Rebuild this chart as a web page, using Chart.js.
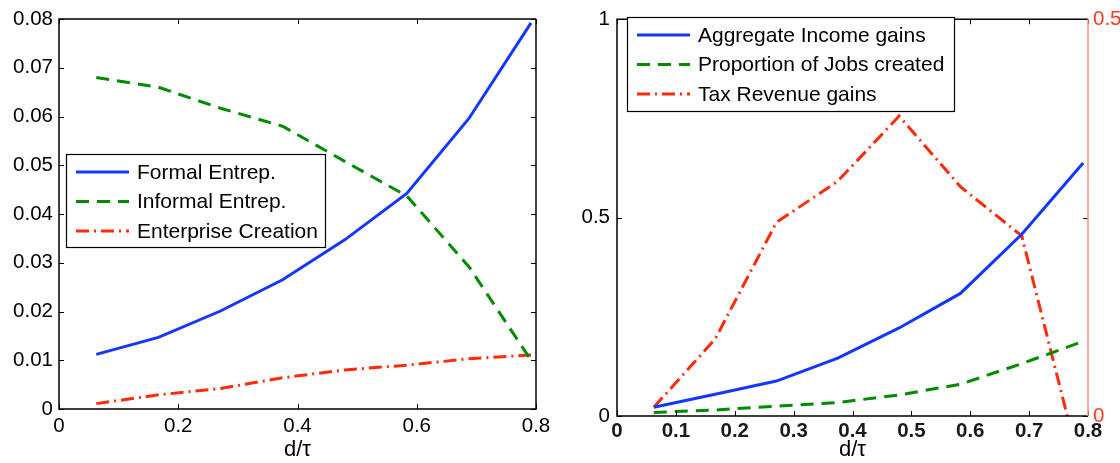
<!DOCTYPE html>
<html>
<head>
<meta charset="utf-8">
<script src="https://cdn.jsdelivr.net/npm/chart.js@4.4.1/dist/chart.umd.min.js"></script>
<style>
  body { margin: 0; background: #fff; }
  #wrap { position: relative; width: 1120px; height: 463px; }
  canvas { position: absolute; top: 0; }
</style>
</head>
<body>
<div id="wrap">
  <canvas id="left" width="560" height="463" style="left:0"></canvas>
  <canvas id="right" width="560" height="463" style="left:560px"></canvas>
</div>
<script>
// x positions (d/tau) shared by both panels
const dTau = [0.0625, 0.1667, 0.2708, 0.375, 0.4792, 0.5833, 0.6875, 0.7917];

// left panel
const formalEntrep = [0.0112, 0.0147, 0.0201, 0.0265, 0.0347, 0.0442, 0.0596, 0.0792];
const informalEntrep = [0.0680, 0.0660, 0.0617, 0.0580, 0.0508, 0.0437, 0.0292, 0.0100];
const enterpriseCreation = [0.0011, 0.0029, 0.0042, 0.0064, 0.0080, 0.0090, 0.0103, 0.0111];

// right panel
const incomeGains = [0.022, 0.055, 0.088, 0.146, 0.222, 0.309, 0.458, 0.638];
const jobsCreated = [0.009, 0.015, 0.025, 0.034, 0.053, 0.080, 0.132, 0.188];
const taxRevenueGains = [0.011, 0.097, 0.244, 0.296, 0.378, 0.289, 0.227, -0.079]; // right axis

const leftXTicks = [0, 0.2, 0.4, 0.6, 0.8];
const leftYTicks = [0, 0.01, 0.02, 0.03, 0.04, 0.05, 0.06, 0.07, 0.08];
const rightXTicks = [0, 0.1, 0.2, 0.3, 0.4, 0.5, 0.6, 0.7, 0.8];
const rightYTicks = [0, 0.5, 1];
const taxAxisTicks = [0, 0.5];

const BLUE = '#1437ff';
const GREEN = '#008a00';
const RED = '#ff2a0a';
const FONT = '"Liberation Sans", Arial, Helvetica, sans-serif';

Chart.defaults.font.family = FONT;
Chart.defaults.color = '#000';

function pts(ys) {
  return dTau.map((x, i) => ({ x: x, y: ys[i] }));
}
function useTicks(values) {
  return s => { s.ticks = values.map(v => ({ value: v })); };
}
function fixWidth(w) { return s => { s.width = w; }; }
function fixHeight(h) { return s => { s.height = h; }; }

const solid = (label, ys, color, axis) => ({
  label, data: pts(ys), borderColor: color, borderWidth: 3, pointRadius: 0, yAxisID: axis || 'y'
});
const dashed = (label, ys, color, axis) => Object.assign(solid(label, ys, color, axis), { borderDash: [13, 8] });
const dashDot = (label, ys, color, axis) => Object.assign(solid(label, ys, color, axis), { borderDash: [13, 5, 2, 5] });

// matlab-like box with inward ticks on all sides
const frame = {
  id: 'frame',
  afterDatasetsDraw(chart, args, o) {
    const { ctx, chartArea: a, scales } = chart;
    const len = 5;
    ctx.save();
    ctx.lineWidth = 1;
    ctx.strokeStyle = '#000';
    ctx.beginPath();
    scales.x.ticks.forEach((t, i) => {
      const px = Math.round(scales.x.getPixelForTick(i)) + 0.5;
      ctx.moveTo(px, a.bottom); ctx.lineTo(px, a.bottom - len);
      ctx.moveTo(px, a.top); ctx.lineTo(px, a.top + len);
    });
    scales.y.ticks.forEach((t, i) => {
      const py = Math.round(scales.y.getPixelForTick(i)) + 0.5;
      ctx.moveTo(a.left, py); ctx.lineTo(a.left + len, py);
      ctx.moveTo(a.right, py); ctx.lineTo(a.right - len, py);
    });
    ctx.stroke();
    ctx.lineWidth = 1.5;
    ctx.beginPath();
    ctx.moveTo(a.right, a.top);
    ctx.lineTo(a.left, a.top);
    ctx.lineTo(a.left, a.bottom);
    ctx.lineTo(a.right, a.bottom);
    if (!o.rightColor) ctx.lineTo(a.right, a.top);
    ctx.stroke();
    if (o.rightColor) {
      ctx.strokeStyle = o.rightColor;
      ctx.beginPath();
      ctx.moveTo(a.right, a.top);
      ctx.lineTo(a.right, a.bottom);
      ctx.stroke();
    }
    ctx.restore();
  }
};

const boxLegend = {
  id: 'boxLegend',
  afterDraw(chart, args, o) {
    const ctx = chart.ctx;
    ctx.save();
    ctx.fillStyle = '#fff';
    ctx.fillRect(o.left, o.top, o.width, o.height);
    ctx.lineWidth = 1.2;
    ctx.strokeStyle = '#000';
    ctx.strokeRect(o.left + 0.5, o.top + 0.5, o.width, o.height);
    ctx.font = '21px ' + FONT;
    ctx.textBaseline = 'middle';
    ctx.fillStyle = '#000';
    chart.data.datasets.forEach((ds, i) => {
      const y = o.top + 18 + i * 29.5;
      ctx.save();
      ctx.strokeStyle = ds.borderColor;
      ctx.lineWidth = ds.borderWidth;
      ctx.setLineDash(ds.borderDash || []);
      ctx.beginPath();
      ctx.moveTo(o.left + 10, y);
      ctx.lineTo(o.left + 63, y);
      ctx.stroke();
      ctx.restore();
      ctx.fillText(ds.label, o.left + 71, y + 1);
    });
    ctx.restore();
  }
};

const tickFont = { size: 20.5 };
const titleOpts = { display: true, text: 'd/\u03c4', font: { size: 22 }, padding: 0, color: '#000' };

new Chart(document.getElementById('left'), {
  type: 'line',
  data: {
    datasets: [
      solid('Formal Entrep.', formalEntrep, BLUE),
      dashed('Informal Entrep.', informalEntrep, GREEN),
      dashDot('Enterprise Creation', enterpriseCreation, RED)
    ]
  },
  plugins: [frame, boxLegend],
  options: {
    responsive: false,
    animation: false,
    layout: { padding: { left: 0, right: 24, top: 19, bottom: 0 } },
    scales: {
      x: {
        type: 'linear', min: 0, max: 0.8,
        afterBuildTicks: useTicks(leftXTicks),
        afterFit: fixHeight(54),
        grid: { display: false, drawTicks: false },
        border: { display: false },
        ticks: { font: tickFont, padding: 5, maxRotation: 0, callback: v => String(v) },
        title: titleOpts
      },
      y: {
        min: 0, max: 0.08,
        afterBuildTicks: useTicks(leftYTicks),
        afterFit: fixWidth(59),
        grid: { display: false, drawTicks: false },
        border: { display: false },
        ticks: { font: tickFont, padding: 6, callback: v => String(v) }
      }
    },
    plugins: {
      legend: { display: false },
      tooltip: { enabled: false },
      frame: {},
      boxLegend: { left: 66, top: 154, width: 259, height: 93 }
    }
  }
});

new Chart(document.getElementById('right'), {
  type: 'line',
  data: {
    datasets: [
      solid('Aggregate Income gains', incomeGains, BLUE),
      dashed('Proportion of Jobs created', jobsCreated, GREEN),
      dashDot('Tax Revenue gains', taxRevenueGains, RED, 'y1')
    ]
  },
  plugins: [frame, boxLegend],
  options: {
    responsive: false,
    animation: false,
    layout: { padding: { left: 0, right: 0, top: 19, bottom: 0 } },
    scales: {
      x: {
        type: 'linear', min: 0, max: 0.8,
        afterBuildTicks: useTicks(rightXTicks),
        afterFit: fixHeight(47),
        grid: { display: false, drawTicks: false },
        border: { display: false },
        ticks: { font: { size: 20.5, weight: 'bold' }, color: '#1a1a1a', padding: 3, maxRotation: 0, autoSkip: false, callback: v => String(v) },
        title: titleOpts
      },
      y: {
        min: 0, max: 1,
        afterBuildTicks: useTicks(rightYTicks),
        afterFit: fixWidth(57),
        grid: { display: false, drawTicks: false },
        border: { display: false },
        ticks: { font: tickFont, padding: 7, callback: v => String(v) }
      },
      y1: {
        position: 'right',
        min: 0, max: 0.5,
        afterBuildTicks: useTicks(taxAxisTicks),
        afterFit: fixWidth(32),
        grid: { display: false, drawTicks: false },
        border: { display: false },
        ticks: { font: tickFont, color: '#ff3b1f', padding: 5, callback: v => String(v) }
      }
    },
    plugins: {
      legend: { display: false },
      tooltip: { enabled: false },
      frame: { rightColor: '#ff8f80' },
      boxLegend: { left: 67, top: 17, width: 327, height: 94 }
    }
  }
});
</script>
</body>
</html>
